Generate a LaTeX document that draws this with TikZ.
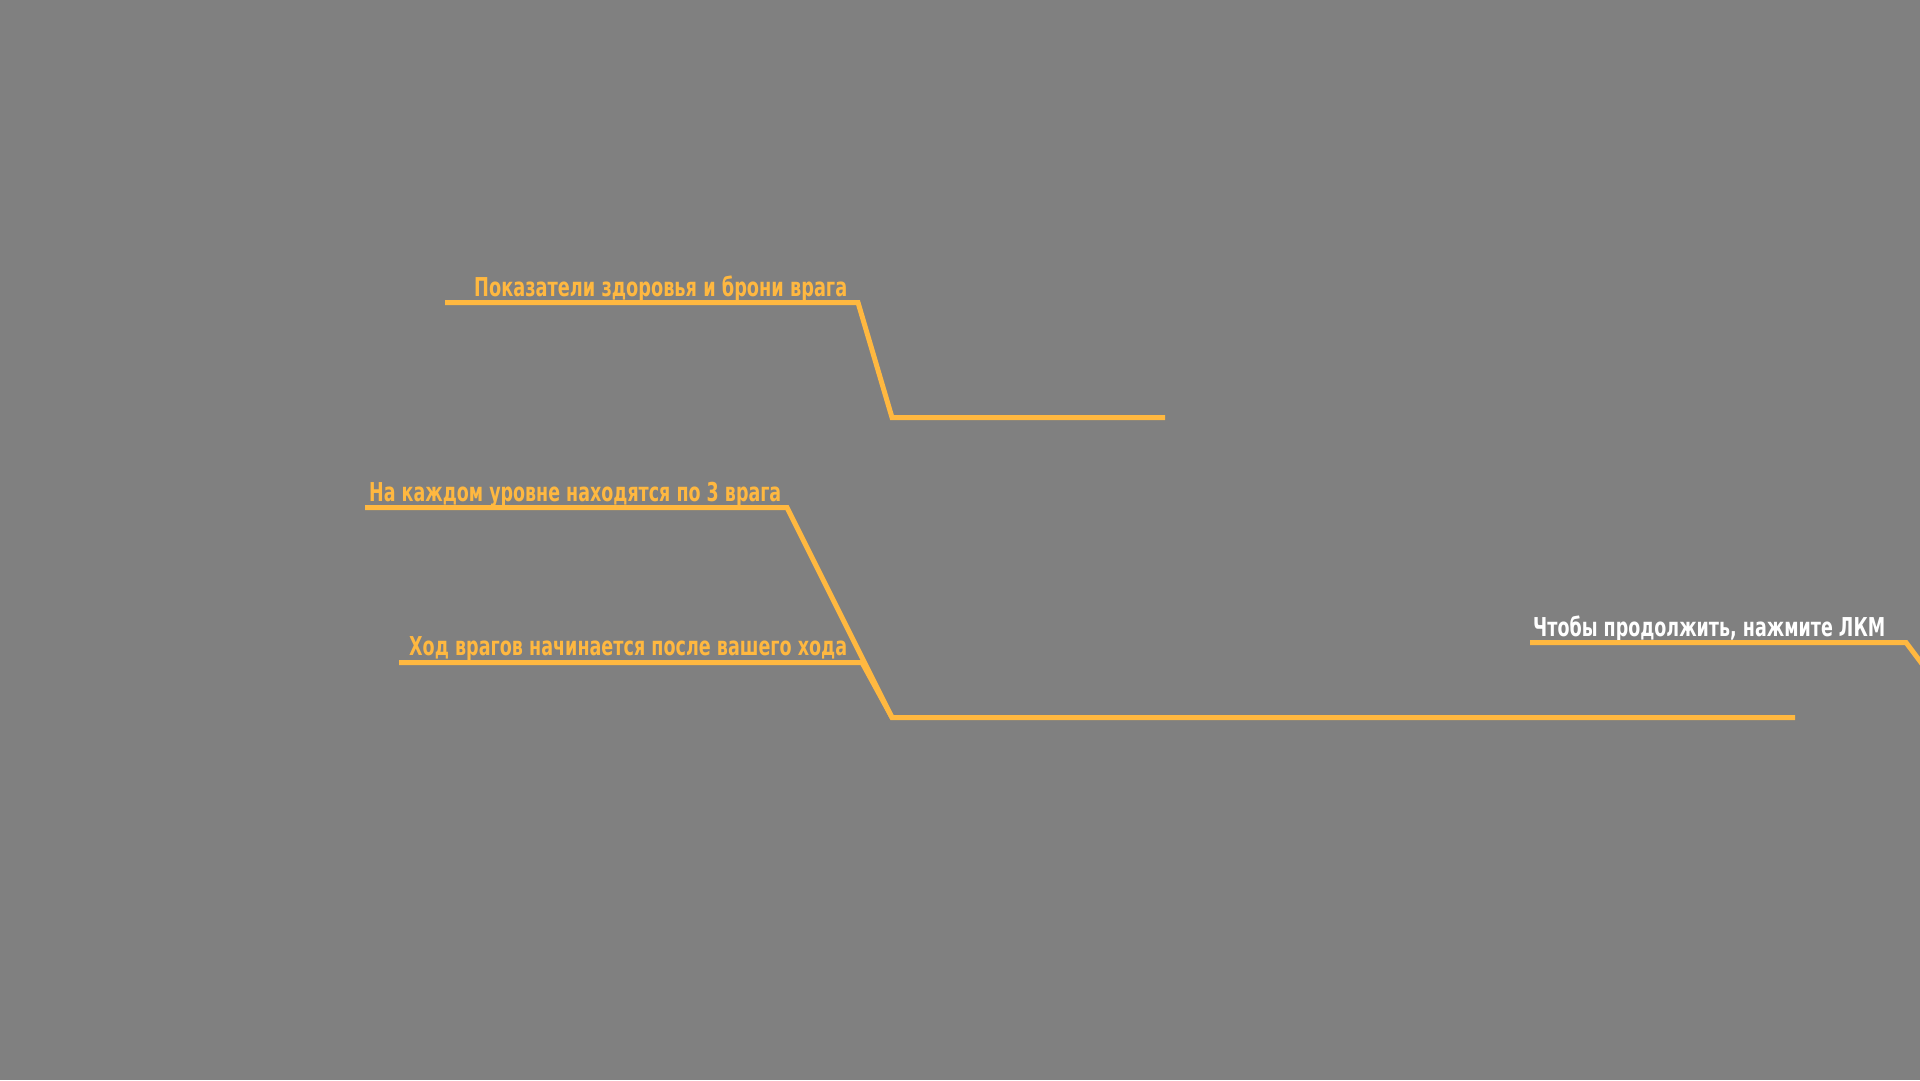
\documentclass[tikz,border=0pt]{standalone}
\usepackage{fontspec}
\usepackage{graphicx}
\newfontfamily\hudfont{DejaVu Sans}
\definecolor{hudorange}{RGB}{255,184,64}
\definecolor{hudgray}{RGB}{128,128,128}
\begin{document}
\begin{tikzpicture}[x=1pt,y=-1pt,
  hint/.style={anchor=base west, inner sep=0, text=hudorange, font=\hudfont\bfseries\fontsize{26}{26}\selectfont},
  lead/.style={draw=hudorange, line width=5pt, line join=miter}]
\fill[hudgray] (0,0) rectangle (1920,1080);
\useasboundingbox (0,0) rectangle (1920,1080);
\clip (0,0) rectangle (1920,1080);
% labels
\node[hint] (hp) at (474,296){\resizebox{373pt}{\height}{Показатели здоровья и брони врага}};
\node[hint] (cnt) at (369,501){\resizebox{412pt}{\height}{На каждом уровне находятся по 3 врага}};
\node[hint] (turn) at (409,655){\resizebox{438pt}{\height}{Ход врагов начинается после вашего хода}};
\node[hint, text=white] (cont) at (1533,636){\resizebox{352pt}{\height}{Чтобы продолжить, нажмите ЛКМ}};
% leader points
\coordinate (hp0) at (445,302.5);
\coordinate (hp1) at (858,302.5);
\coordinate (hp2) at (892,417.5);
\coordinate (hp3) at (1165,417.5);
\coordinate (cnt0) at (365,507.5);
\coordinate (cnt1) at (787,507.5);
\coordinate (cnt2) at (892,717.5);
\coordinate (cnt3) at (1795,717.5);
\coordinate (turn0) at (399,662.5);
\coordinate (turn1) at (862,662.5);
\coordinate (cont0) at (1530,642.5);
\coordinate (cont1) at (1906,642.5);
\coordinate (cont2) at (1936,682.5);
\draw[lead] (hp0) -- (hp1) -- (hp2) -- (hp3);
\draw[lead] (cnt0) -- (cnt1) -- (cnt2) -- (cnt3);
\draw[lead] (turn0) -- (turn1) -- (cnt2);
\draw[lead] (cont0) -- (cont1) -- (cont2);

\end{tikzpicture}
\end{document}
